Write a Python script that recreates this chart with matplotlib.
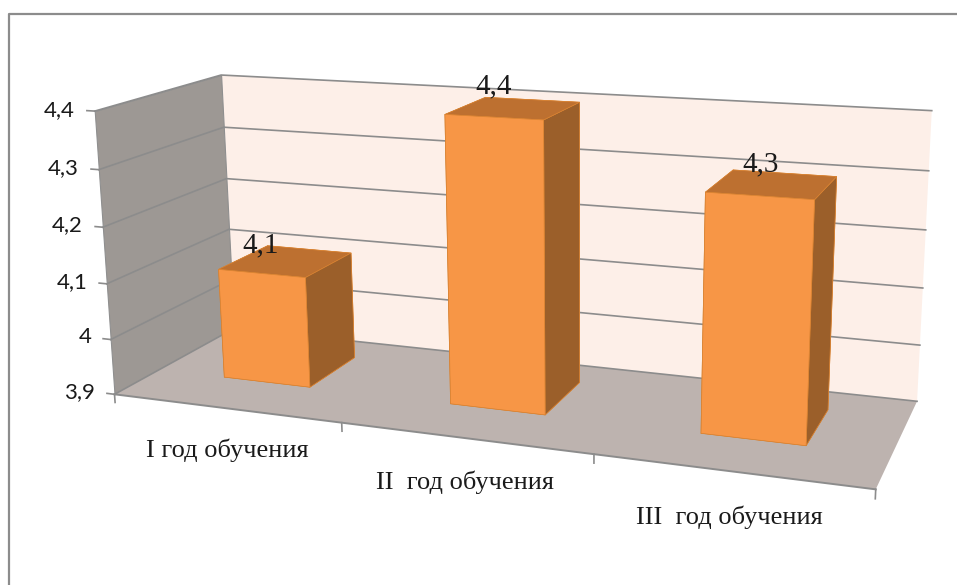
import matplotlib
matplotlib.use('Agg')
import matplotlib.pyplot as plt
from matplotlib.lines import Line2D
from mpl_toolkits.mplot3d.art3d import Poly3DCollection

categories = ['I год обучения', 'II  год обучения', 'III  год обучения']
values = [4.1, 4.4, 4.3]
value_labels = ['4,1', '4,4', '4,3']
z_ticks = [3.9, 4.0, 4.1, 4.2, 4.3, 4.4]
z_tick_labels = ['3,9', '4', '4,1', '4,2', '4,3', '4,4']

z_min = z_ticks[0]
z_max = z_ticks[-1]
n_cat = len(categories)
bar_w = 0.39
y_front = 0.35
y_back = 0.78
line_gray = '#8c8c8c'

fig = plt.figure(figsize=(9.57, 5.85), dpi=100, facecolor='white')

# frame round the chart area, runs off the picture on the right and bottom
fig.add_artist(Line2D([9 / 957, 9 / 957, 1], [0, 1 - 14 / 585, 1 - 14 / 585], color=line_gray, lw=1.6))

# 3d axes are forced square, so make it as wide as the figure
ax = fig.add_axes([0.0185, -0.28, 1.0, 1.636], projection='3d', computed_zorder=False)
ax.set_proj_type('persp', focal_length=0.34)
ax.view_init(elev=14.5, azim=-69, roll=0.6)
ax.set_xlim(0, n_cat, view_margin=0)
ax.set_ylim(0, 1, view_margin=0)
ax.set_zlim(z_min, z_max, view_margin=0)
ax.set_box_aspect((3.3, 1.05, 1.25), zoom=0.885)
ax.set_axis_off()

# walls and floor
left_wall = [(0, 0, z_min), (0, 1, z_min), (0, 1, z_max), (0, 0, z_max)]
back_wall = [(0, 1, z_min), (n_cat, 1, z_min), (n_cat, 1, z_max), (0, 1, z_max)]
floor = [(0, 0, z_min), (n_cat, 0, z_min), (n_cat, 1, z_min), (0, 1, z_min)]
ax.add_collection3d(Poly3DCollection([back_wall], facecolor='#fdefe8', edgecolor='none', zorder=1))
ax.add_collection3d(Poly3DCollection([left_wall], facecolor='#9d9894', edgecolor='#8f8f8f', linewidth=0.8, zorder=1))
ax.add_collection3d(Poly3DCollection([floor], facecolor='#bdb3af', edgecolor='none', zorder=1))

# gridlines on the walls, tick marks and tick labels on the value axis
for tick, label in zip(z_ticks, z_tick_labels):
    ax.plot([0, 0, n_cat], [0, 1, 1], [tick, tick, tick], color=line_gray, lw=1.2, zorder=2)
    ax.plot([-0.035, 0], [0, 0], [tick, tick], color=line_gray, lw=1.2, zorder=2)
    ax.text(-0.09, 0, tick, label, ha='right', va='center', family='Lato', fontsize=16, color='#1a1a1a', zorder=6)

# floor edge and category ticks
ax.plot([0, n_cat], [0, 0], [z_min, z_min], color=line_gray, lw=1.4, zorder=2)
for i in range(n_cat + 1):
    ax.plot([i, i], [0, 0], [z_min, z_min - 0.015], color=line_gray, lw=1.2, zorder=2)

for i, (value, label, cat) in enumerate(zip(values, value_labels, categories)):
    x0 = i + 0.5 - bar_w / 2
    # bottom, top, front, back, left, right
    face_colors = ['#bd7030', '#bd7030', '#f79646', '#f79646', '#9b5f2a', '#9b5f2a']
    ax.bar3d(x0, y_front, z_min, bar_w, y_back - y_front, value - z_min,
             color=face_colors, edgecolor='#d98332', linewidth=0.5, shade=False, zorder=3 + i / 10)
    ax.text(i + 0.5, y_front, value + 0.05, label, ha='center', va='center', family='Liberation Serif',
            fontsize=21, color='#1a1a1a', zorder=6)
    ax.text(i + 0.5, 0, z_min - 0.076, cat, ha='center', va='center', family='Liberation Serif',
            fontsize=19, color='#1a1a1a', zorder=6)

fig.savefig('out.png', dpi=100)
